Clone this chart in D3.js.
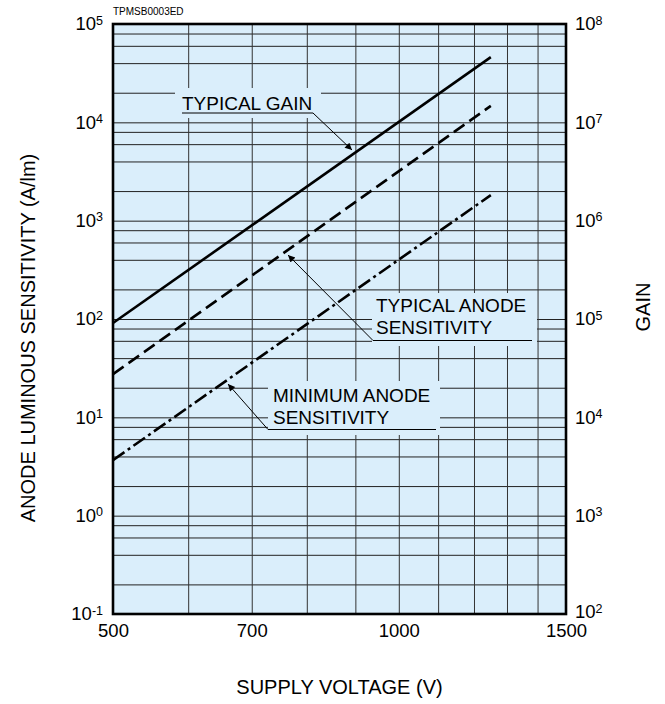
<!DOCTYPE html>
<html><head><meta charset="utf-8">
<script src="https://cdn.jsdelivr.net/npm/d3@7"></script>
<style>body{margin:0;background:#fff;} text{font-family:"Liberation Sans",Arial,Helvetica,sans-serif;fill:#000;}</style>
</head><body><svg id="c" width="665" height="704"></svg>
<script>
// ---- data ----
const voltage = [500, 1250];                 // supply voltage (V)
const typicalGain = [9.1e4, 4.6e7];          // gain (right axis)
const typicalAnode = [27.5, 1.47e4];         // A/lm (left axis)
const minimumAnode = [3.67, 1.82e3];         // A/lm (left axis)
const xTickValues = [500, 700, 1000, 1500];
const xGridValues = [500,600,700,800,900,1000,1100,1200,1300,1400,1500];
const leftExponents = [-1,0,1,2,3,4,5];
const rightExponents = [2,3,4,5,6,7,8];
const minorMultipliers = [2,4,6,8];
const chartCode = "TPMSB0003ED";

// ---- layout ----
const L=113, R=566, T=24, B=614;
const svg=d3.select("#c");
const x=d3.scaleLog().domain([500,1500]).range([L,R]);
const y=d3.scaleLog().domain([1e-1,1e5]).range([B,T]);
const yG=d3.scaleLog().domain([1e2,1e8]).range([B,T]);
const bg="#daeefb";

svg.append("rect").attr("x",L).attr("y",T).attr("width",R-L).attr("height",B-T).attr("fill",bg);

// grid
const yGrid=[];
leftExponents.forEach(e=>{yGrid.push(Math.pow(10,e)); if(e<5) minorMultipliers.forEach(m=>yGrid.push(m*Math.pow(10,e)));});
const gy=svg.append("g").attr("transform",`translate(${L},0)`)
  .call(d3.axisLeft(y).tickValues(yGrid).tickSize(-(R-L)).tickFormat(""));
gy.select(".domain").remove();
gy.selectAll("line").attr("stroke","#222").attr("stroke-width",1);
const gx=svg.append("g").attr("transform",`translate(0,${B})`)
  .call(d3.axisBottom(x).tickValues(xGridValues).tickSize(-(B-T)).tickFormat(""));
gx.select(".domain").remove();
gx.selectAll("line").attr("stroke","#333").attr("stroke-width",1);

// label boxes hiding gridlines
const boxes=[[175,88,146,30],[372,293,165,53],[268,381,172,54]];
svg.selectAll(".lbox").data(boxes).enter().append("rect")
  .attr("x",d=>d[0]).attr("y",d=>d[1]).attr("width",d=>d[2]).attr("height",d=>d[3]).attr("fill",bg);

// curves
const lineL=d3.line().x(d=>x(d[0])).y(d=>y(d[1]));
const lineG=d3.line().x(d=>x(d[0])).y(d=>yG(d[1]));
svg.append("path").attr("d",lineG(voltage.map((v,i)=>[v,typicalGain[i]])))
  .attr("fill","none").attr("stroke","#000").attr("stroke-width",2.6);
svg.append("path").attr("d",lineL(voltage.map((v,i)=>[v,typicalAnode[i]])))
  .attr("fill","none").attr("stroke","#000").attr("stroke-width",2.6).attr("stroke-dasharray","13,6");
svg.append("path").attr("d",lineL(voltage.map((v,i)=>[v,minimumAnode[i]])))
  .attr("fill","none").attr("stroke","#000").attr("stroke-width",2.6).attr("stroke-dasharray","14,4,3,4");

// frame
svg.append("rect").attr("x",L).attr("y",T).attr("width",R-L).attr("height",B-T)
  .attr("fill","none").attr("stroke","#000").attr("stroke-width",2.6);

// axes labels
function sup(sel){
  sel.each(function(d){
    const e=Math.round(Math.log10(d));
    const t=d3.select(this); t.text("");
    t.append("tspan").text("10");
    t.append("tspan").attr("font-size","12.5px").attr("dy","-0.45em").text(e);
  });
}
const ay=svg.append("g").attr("transform",`translate(${L},0)`)
  .call(d3.axisLeft(y).tickValues(leftExponents.map(e=>Math.pow(10,e))).tickSize(0).tickPadding(10));
ay.select(".domain").remove();
ay.selectAll("text").attr("font-size","18.5px").call(sup);
const ar=svg.append("g").attr("transform",`translate(${R},0)`)
  .call(d3.axisRight(yG).tickValues(rightExponents.map(e=>Math.pow(10,e))).tickSize(0).tickPadding(9));
ar.select(".domain").remove();
ar.selectAll("text").attr("font-size","18.5px").call(sup);
ar.selectAll("text").filter(d=>d===1e2).attr("dy","0.2em");
const ax=svg.append("g").attr("transform",`translate(0,${B})`)
  .call(d3.axisBottom(x).tickValues(xTickValues).tickSize(0).tickPadding(10).tickFormat(d3.format("d")));
ax.select(".domain").remove();
ax.selectAll("text").attr("font-size","18.5px");

svg.append("text").attr("x",113).attr("y",15).attr("font-size","10px").text(chartCode);
svg.append("text").attr("x",(L+R)/2).attr("y",694).attr("text-anchor","middle").attr("font-size","20px").text("SUPPLY VOLTAGE (V)");
svg.append("text").attr("transform","translate(35,338) rotate(-90)").attr("text-anchor","middle").attr("font-size","20px").text("ANODE LUMINOUS SENSITIVITY (A/lm)");
svg.append("text").attr("transform","translate(650,307) rotate(-90)").attr("text-anchor","middle").attr("font-size","20px").text("GAIN");

// annotations
const defs=svg.append("defs");
defs.append("marker").attr("id","ah").attr("viewBox","0 0 10 10").attr("refX",10).attr("refY",5)
  .attr("markerWidth",10).attr("markerHeight",7).attr("markerUnits","userSpaceOnUse").attr("orient","auto")
  .append("path").attr("d","M0,0L10,5L0,10Z").attr("fill","#000");
const ann=[
  {lines:["TYPICAL GAIN"],tx:182,ty:110,ul:[182,313,113],tip:[352,150]},
  {lines:["TYPICAL ANODE","SENSITIVITY"],tx:376,ty:311.5,ul:[373,532,340.5],tip:[288,255]},
  {lines:["MINIMUM ANODE","SENSITIVITY"],tx:273,ty:401.5,ul:[268,436,429.5],tip:[228,384]}
];
ann.forEach((a,k)=>{
  a.lines.forEach((s,i)=>svg.append("text").attr("x",a.tx).attr("y",a.ty+i*22.7).attr("font-size","19px").text(s));
  svg.append("line").attr("x1",a.ul[0]).attr("x2",a.ul[1]).attr("y1",a.ul[2]).attr("y2",a.ul[2]).attr("stroke","#000").attr("stroke-width",1);
  const sx = k===0 ? a.ul[1] : a.ul[0];
  svg.append("line").attr("x1",sx).attr("y1",a.ul[2]).attr("x2",a.tip[0]).attr("y2",a.tip[1])
    .attr("stroke","#000").attr("stroke-width",1).attr("marker-end","url(#ah)");
});
</script></body></html>
